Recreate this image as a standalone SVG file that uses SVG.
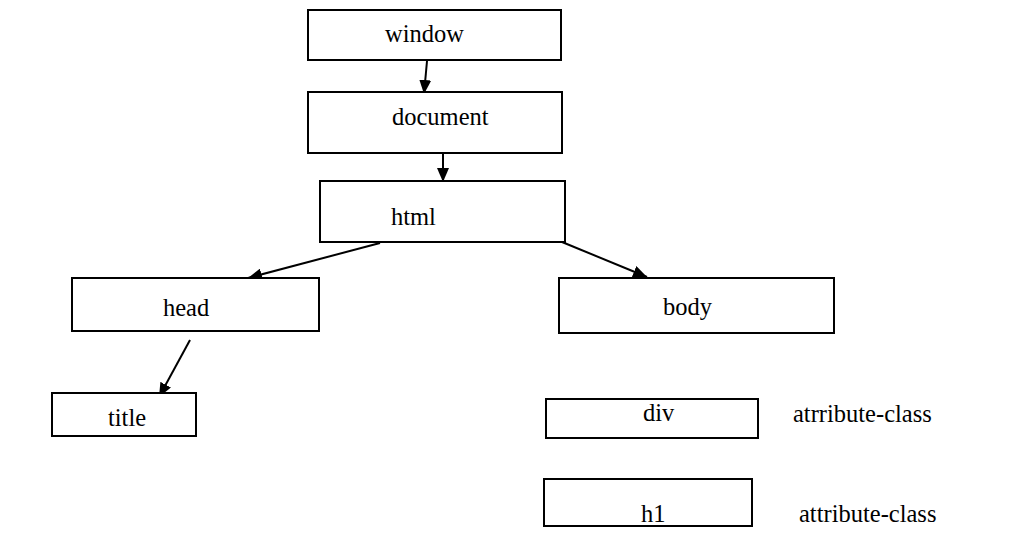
<svg xmlns="http://www.w3.org/2000/svg" width="1016" height="552" viewBox="0 0 1016 552">
<style>
.box{fill:#fff;stroke:#000;stroke-width:2}
.t{font-family:"Liberation Serif","Times New Roman",serif;font-size:24.5px;fill:#000}
.c{stroke:#000;stroke-width:2;fill:none;marker-end:url(#ah)}
</style>
<defs>
<marker id="ah" viewBox="0 0 14 12" refX="14" refY="6" markerWidth="14" markerHeight="12" markerUnits="userSpaceOnUse" orient="auto">
<path d="M0,0 L14,6 L0,12 z" fill="#000"/>
</marker>
</defs>
<rect width="1016" height="552" fill="#fff"/>
<g id="connectors">
<line class="c" x1="427" y1="61" x2="424" y2="94"/>
<line class="c" x1="443" y1="153" x2="443" y2="182"/>
<line class="c" x1="380" y1="243" x2="248" y2="278"/>
<line class="c" x1="562" y1="242" x2="647" y2="277"/>
<line class="c" x1="190" y1="340" x2="159" y2="397"/>
</g>
<g id="window"><rect class="box" x="308" y="10" width="253" height="50"/><text class="t" x="385" y="42">window</text></g>
<g id="document"><rect class="box" x="308" y="92" width="254" height="61"/><text class="t" x="392" y="125">document</text></g>
<g id="html"><rect class="box" x="320" y="181" width="245" height="61"/><text class="t" x="391" y="225">html</text></g>
<g id="head"><rect class="box" x="72" y="278" width="247" height="53"/><text class="t" x="163" y="316">head</text></g>
<g id="body"><rect class="box" x="559" y="278" width="275" height="55"/><text class="t" x="663" y="315">body</text></g>
<g id="title"><rect class="box" x="52" y="393" width="144" height="43"/><text class="t" x="108" y="426">title</text></g>
<g id="div"><rect class="box" x="546" y="399" width="212" height="39"/><text class="t" x="643" y="421">div</text></g>
<g id="div-label"><text class="t" x="793" y="422">atrribute-class</text></g>
<g id="h1"><rect class="box" x="544" y="479" width="208" height="47"/><text class="t" x="641" y="522">h1</text></g>
<g id="h1-label"><text class="t" x="799" y="522">attribute-class</text></g>
</svg>
